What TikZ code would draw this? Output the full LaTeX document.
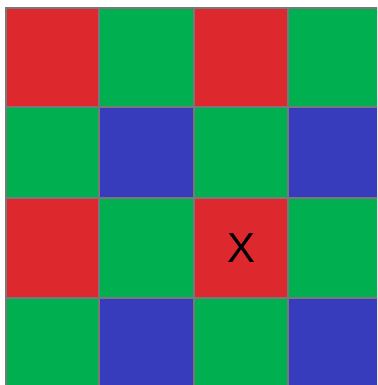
\documentclass[tikz,border=0pt]{standalone}
\usepackage{fontspec}
\setmainfont{Liberation Sans}
\definecolor{cr}{RGB}{221,41,46}
\definecolor{cg}{RGB}{0,176,80}
\definecolor{cb}{RGB}{55,60,188}
\definecolor{cl}{RGB}{120,120,120}
\begin{document}
\begin{tikzpicture}[x=1pt,y=1pt,
  cell/.style={draw=cl,line width=1.5pt,inner sep=0pt,anchor=center},
  R/.style={cell,fill=cr},G/.style={cell,fill=cg},B/.style={cell,fill=cb}]
\useasboundingbox (0,0) rectangle (377,385);
\begin{scope}
\clip (0,0) rectangle (377,385);
\foreach \r/\ya/\yb/\ca/\cb in {0/8/107/R/G,1/107/198/G/B,2/198/298/R/G,3/298/395/G/B}{
  \foreach \k/\xa/\xb/\sel in {0/6/99/0,1/99/194/1,2/194/288/0,3/288/382/1} {
    \pgfmathsetmacro\w{\xb-\xa}
    \pgfmathsetmacro\h{\yb-\ya}
    \pgfmathsetmacro\cx{(\xa+\xb)/2}
    \pgfmathsetmacro\cy{385-(\ya+\yb)/2}
    \ifnum\sel=0 \def\st{\ca}\else\def\st{\cb}\fi
    \node[\st, minimum width=\w pt, minimum height=\h pt] (c\r\k) at (\cx,\cy) {};
  }
}
\node[font=\fontsize{42}{42}\selectfont] (x) at (241.5,385-248) {X};
\end{scope}
\end{tikzpicture}
\end{document}
